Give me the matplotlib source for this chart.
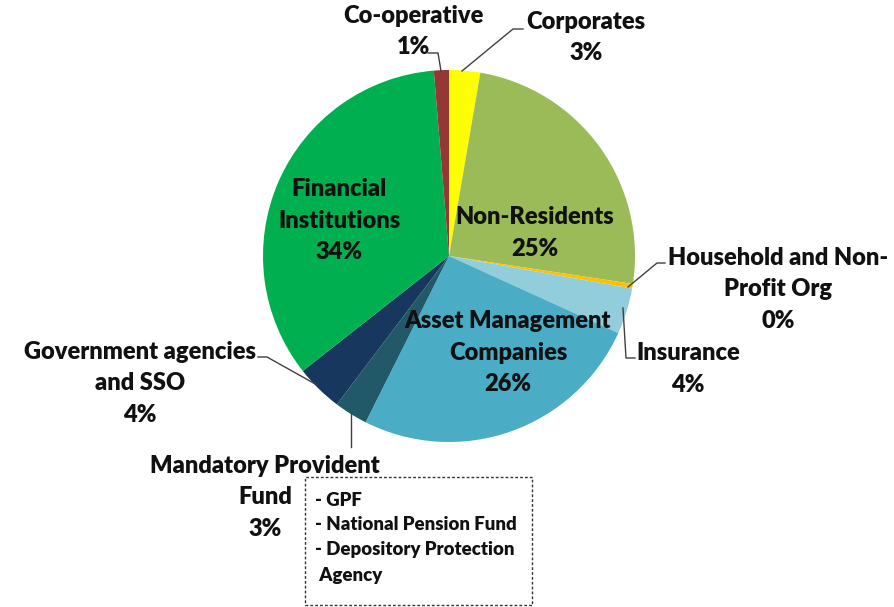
import matplotlib
matplotlib.use("Agg")
import matplotlib.pyplot as plt
from matplotlib.patches import Rectangle

# Investor shares (%), clockwise from 12 o'clock
names = ["Corporates", "Non-Residents", "Household and Non-\nProfit Org", "Insurance",
         "Asset Management\nCompanies", "Mandatory Provident\nFund",
         "Government agencies\nand SSO", "Financial\nInstitutions", "Co-operative"]
shares = [2.7, 24.7, 0.4, 4.0, 25.6, 2.9, 4.1, 34.3, 1.3]
colors = ["#FFFF00", "#9BBB59", "#FFC000", "#92CDDC", "#4BACC6",
          "#215968", "#17375E", "#00B050", "#953735"]
box_lines = ["- GPF", "- National Pension Fund", "- Depository Protection", " Agency"]

W, H = 894, 607
fig = plt.figure(figsize=(W / 100, H / 100), dpi=100)
ax = fig.add_axes([0, 0, 1, 1])

ax.pie(shares, colors=colors, startangle=90, counterclock=False,
       center=(449, H - 256), radius=186, wedgeprops=dict(linewidth=0))
ax.set_xlim(0, W)
ax.set_ylim(0, H)
ax.set_aspect("equal")
ax.axis("off")

font = dict(family="Lato", weight="heavy", fontsize=17, color="#111111",
            ha="center", va="center")

# label positions in pixels: centre x, y of first line (from top)
label_pos = [(586, 22), (535, 217), (778, 258), (688, 353), (508, 321),
             (265, 466), (140, 352), (339, 189), (413, 16)]
step = 31.5
for name, v, (x, y) in zip(names, shares, label_pos):
    lines = name.split("\n") + [f"{v:.0f}%"]
    for i, line in enumerate(lines):
        ax.text(x, H - (y + i * step), line, **font)

# leader lines
leaders = [
    [(523, 29), (513, 29), (462, 71)],
    [(665, 263), (657, 263), (628, 287)],
    [(635, 358), (626, 358), (623, 308)],
    [(351, 447), (351, 412)],
    [(258, 357), (267, 357), (317, 385)],
    [(428, 53), (438, 53), (441, 71)],
]
for pts in leaders:
    xs = [p[0] for p in pts]
    ys = [H - p[1] for p in pts]
    ax.plot(xs, ys, color="#404040", lw=1)

ax.add_patch(Rectangle((305, H - 605), 227, 128, fill=False, ec="#333333",
                       lw=1, ls=(0, (2, 1.5))))
for i, line in enumerate(box_lines):
    ax.text(315, H - (500 + i * 25), line, family="Lato", weight="heavy",
            fontsize=13.4, color="#111111", ha="left", va="center")

fig.savefig("out.png", dpi=100, facecolor="white")
